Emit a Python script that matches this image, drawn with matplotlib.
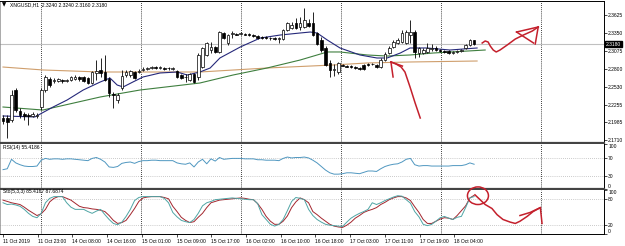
import numpy as np
import matplotlib.pyplot as plt
from matplotlib.patches import Ellipse
import matplotlib.transforms as mtransforms

plt.rcParams['font.family'] = ['Liberation Sans', 'DejaVu Sans']

# XNGUSD H1 candles
opens = [2.2051, 2.2051, 2.2021, 2.2479, 2.2158, 2.2112, 2.2097, 2.2082, 2.2082, 2.2219,
         2.2479, 2.2647, 2.2617, 2.2617, 2.2632, 2.2617, 2.2632, 2.2647, 2.2678, 2.2678,
         2.2662, 2.2586, 2.2739, 2.2785, 2.2754, 2.2647, 2.2418, 2.2326, 2.2510, 2.2708,
         2.2708, 2.2754, 2.2754, 2.2785, 2.2800, 2.2815, 2.2830, 2.2815, 2.2815, 2.2815,
         2.2800, 2.2769, 2.2708, 2.2678, 2.2632, 2.2723, 2.2678, 2.2830, 2.3014, 2.3090,
         2.3136, 2.3060, 2.3350, 2.3197, 2.3335, 2.3335, 2.3335, 2.3335, 2.3335, 2.3319,
         2.3304, 2.3289, 2.3289, 2.3273, 2.3273, 2.3258, 2.3258, 2.3396, 2.3426, 2.3503,
         2.3442, 2.3442, 2.3503, 2.3503, 2.3350, 2.3243, 2.3121, 2.2892, 2.2785, 2.2754,
         2.2861, 2.2846, 2.2846, 2.2830, 2.2815, 2.2861, 2.2876, 2.2876, 2.2861, 2.2830,
         2.2937, 2.3044, 2.3136, 2.3197, 2.3212, 2.3197, 2.3319, 2.3365, 2.3044, 2.3044,
         2.3060, 2.3105, 2.3121, 2.3090, 2.3075, 2.3075, 2.3044, 2.3060, 2.3075, 2.3121,
         2.3167, 2.3240]
highs = [2.2097, 2.2097, 2.2479, 2.2510, 2.2204, 2.2143, 2.2128, 2.2143, 2.2128, 2.2510,
         2.2708, 2.2678, 2.2662, 2.2662, 2.2647, 2.2647, 2.2693, 2.2708, 2.2693, 2.2693,
         2.2678, 2.2769, 2.2937, 2.2968, 2.3014, 2.2678, 2.2448, 2.2433, 2.2785, 2.2785,
         2.2785, 2.2769, 2.2800, 2.2830, 2.2830, 2.2846, 2.2846, 2.2846, 2.2830, 2.2830,
         2.2830, 2.2785, 2.2723, 2.2723, 2.2739, 2.2739, 2.3044, 2.3136, 2.3212, 2.3212,
         2.3151, 2.3380, 2.3365, 2.3335, 2.3380, 2.3350, 2.3365, 2.3350, 2.3350, 2.3335,
         2.3319, 2.3304, 2.3304, 2.3289, 2.3289, 2.3289, 2.3411, 2.3518, 2.3518, 2.3579,
         2.3594, 2.3732, 2.3564, 2.3671, 2.3365, 2.3289, 2.3151, 2.2937, 2.2876, 2.2907,
         2.2876, 2.2861, 2.2861, 2.2846, 2.2830, 2.2876, 2.2892, 2.2892, 2.2876, 2.2968,
         2.3060, 2.3151, 2.3243, 2.3273, 2.3396, 2.3396, 2.3548, 2.3396, 2.3136, 2.3121,
         2.3197, 2.3182, 2.3151, 2.3105, 2.3090, 2.3090, 2.3075, 2.3090, 2.3105, 2.3182,
         2.3258, 2.3240]
lows = [2.1960, 2.1746, 2.1990, 2.2143, 2.2051, 2.2021, 2.1944, 2.2067, 2.2051, 2.2173,
        2.2448, 2.2525, 2.2586, 2.2601, 2.2586, 2.2601, 2.2617, 2.2632, 2.2617, 2.2601,
        2.2571, 2.2571, 2.2632, 2.2678, 2.2617, 2.2372, 2.2204, 2.2280, 2.2479, 2.2678,
        2.2678, 2.2647, 2.2739, 2.2769, 2.2785, 2.2800, 2.2800, 2.2800, 2.2785, 2.2785,
        2.2785, 2.2662, 2.2647, 2.2601, 2.2617, 2.2586, 2.2632, 2.2815, 2.2998, 2.3044,
        2.3044, 2.3044, 2.3258, 2.3167, 2.3273, 2.3319, 2.3319, 2.3319, 2.3304, 2.3289,
        2.3258, 2.3258, 2.3258, 2.3243, 2.3243, 2.3197, 2.3243, 2.3380, 2.3411, 2.3411,
        2.3396, 2.3426, 2.3442, 2.3304, 2.3167, 2.3060, 2.2846, 2.2678, 2.2693, 2.2723,
        2.2846, 2.2830, 2.2815, 2.2800, 2.2785, 2.2785, 2.2846, 2.2861, 2.2815, 2.2815,
        2.2922, 2.3029, 2.3121, 2.3182, 2.3197, 2.3182, 2.3197, 2.2968, 2.2983, 2.3029,
        2.3044, 2.3075, 2.3075, 2.3060, 2.3044, 2.3029, 2.3029, 2.3044, 2.3060, 2.3105,
        2.3151, 2.3160]
closes = [2.2005, 2.1990, 2.2403, 2.2173, 2.2097, 2.2082, 2.2082, 2.2112, 2.2097, 2.2479,
          2.2678, 2.2555, 2.2632, 2.2647, 2.2617, 2.2632, 2.2678, 2.2678, 2.2647, 2.2617,
          2.2586, 2.2754, 2.2769, 2.2739, 2.2632, 2.2433, 2.2403, 2.2403, 2.2693, 2.2754,
          2.2769, 2.2662, 2.2769, 2.2800, 2.2815, 2.2830, 2.2815, 2.2830, 2.2800, 2.2808,
          2.2815, 2.2678, 2.2662, 2.2670, 2.2723, 2.2601, 2.3014, 2.3121, 2.3197, 2.3136,
          2.3060, 2.3365, 2.3273, 2.3319, 2.3350, 2.3327, 2.3350, 2.3327, 2.3319, 2.3304,
          2.3273, 2.3273, 2.3281, 2.3266, 2.3258, 2.3273, 2.3396, 2.3503, 2.3472, 2.3426,
          2.3503, 2.3548, 2.3457, 2.3319, 2.3182, 2.3090, 2.2861, 2.2785, 2.2800, 2.2892,
          2.2853, 2.2838, 2.2830, 2.2815, 2.2800, 2.2800, 2.2861, 2.2869, 2.2830, 2.2937,
          2.3029, 2.3121, 2.3212, 2.3243, 2.3350, 2.3365, 2.3365, 2.3060, 2.3121, 2.3090,
          2.3121, 2.3121, 2.3090, 2.3075, 2.3060, 2.3044, 2.3060, 2.3075, 2.3090, 2.3167,
          2.3243, 2.3180]

# moving averages (read at a few bars, drawn as lines)
ma_fast_idx = [0, 7.5, 11.8, 15.1, 18.9, 22.9, 25.2, 26.9, 28.3, 30.6, 33, 37, 41, 43.4, 46.4, 48.8,
               51.1, 55.9, 60.6, 65.3, 70, 72.4, 74, 76.4, 79.4, 84.1, 88.1, 90.5, 93.6, 95.9,
               99.9, 105.3, 111.7]
ma_fast = [2.2082, 2.2067, 2.2219, 2.2326, 2.2479, 2.2601, 2.2662, 2.2555, 2.2525, 2.2601, 2.2678,
           2.2739, 2.2754, 2.2708, 2.2754, 2.2815, 2.2968, 2.3136, 2.3273, 2.3319, 2.3350, 2.3365,
           2.3350, 2.3243, 2.3121, 2.3014, 2.2968, 2.2968, 2.3044, 2.3121, 2.3121, 2.3090, 2.3121]
ma_mid_idx = [0, 9.4, 22.9, 32.3, 46.4, 54.2, 62.2, 70, 76.4, 79.4, 85.8, 90.5, 95.9, 101.3, 113.6]
ma_mid = [2.2219, 2.2173, 2.2372, 2.2479, 2.2586, 2.2708, 2.2815, 2.2937, 2.3060, 2.3060, 2.3014,
          2.2998, 2.3014, 2.3044, 2.3090]
ma_slow_idx = [0, 9.4, 22.9, 46.4, 62.2, 77.8, 85.8, 95.9, 111.7]
ma_slow = [2.2830, 2.2785, 2.2754, 2.2754, 2.2815, 2.2861, 2.2892, 2.2907, 2.2922]

rsi = [43, 45, 66, 58, 54, 51, 50, 50, 51, 64,
       68, 66, 67, 67, 66, 67, 67, 66, 65, 64,
       63, 68, 70, 66, 60, 49, 48, 50, 57, 59,
       60, 57, 61, 63, 63, 64, 64, 63, 63, 63,
       63, 58, 56, 55, 58, 49, 60, 66, 56, 67,
       62, 70, 66, 67, 68, 68, 68, 67, 67, 67,
       65, 65, 64, 64, 64, 63, 68, 71, 69, 70,
       70, 71, 69, 64, 58, 50, 42, 36, 33, 33,
       34, 36, 36, 35, 34, 37, 40, 40, 39, 45,
       50, 53, 55, 56, 60, 66, 68, 54, 51, 52,
       52, 51, 51, 51, 51, 51, 52, 52, 52, 54,
       58, 55]
sto_main = [71, 67, 68, 66, 63, 56, 47, 40, 37, 47,
            71, 81, 85, 85, 85, 71, 61, 56, 56, 56,
            51, 47, 52, 56, 44, 33, 24, 21, 27, 40,
            56, 76, 83, 85, 85, 85, 85, 85, 81, 71,
            49, 39, 31, 28, 26, 33, 47, 64, 71, 74,
            78, 79, 80, 81, 82, 81, 80, 79, 78, 78,
            69, 44, 33, 22, 18, 22, 33, 53, 74, 83,
            81, 78, 56, 42, 33, 27, 22, 20, 19, 18,
            17, 27, 36, 42, 47, 51, 56, 71, 67, 71,
            76, 80, 84, 87, 86, 78, 70, 51, 39, 22,
            19, 22, 29, 37, 40, 36, 33, 38, 40, 60,
            82, 85]
sto_signal = [77, 74, 71, 69, 67, 61, 54, 48, 42, 46,
              56, 73, 81, 85, 85, 81, 77, 70, 63, 60,
              59, 57, 56, 54, 51, 42, 31, 24, 26, 31,
              44, 58, 74, 82, 84, 85, 85, 85, 83, 80,
              63, 51, 38, 31, 26, 28, 38, 47, 60, 71,
              74, 77, 78, 79, 80, 81, 82, 81, 79, 78,
              69, 56, 40, 29, 22, 22, 29, 41, 60, 73,
              82, 78, 71, 51, 44, 36, 29, 22, 18, 16,
              15, 20, 27, 36, 42, 49, 53, 56, 60, 67,
              72, 78, 82, 85, 85, 82, 76, 62, 49, 33,
              24, 24, 29, 34, 37, 36, 33, 42, 53, 64,
              82, 88]

time_labels = ['11 Oct 2019', '11 Oct 23:00', '14 Oct 08:00', '14 Oct 16:00', '15 Oct 01:00',
               '15 Oct 09:00', '15 Oct 17:00', '16 Oct 02:00', '16 Oct 10:00', '16 Oct 18:00',
               '17 Oct 03:00', '17 Oct 11:00', '17 Oct 19:00', '18 Oct 04:00']
price_ticks = [2.3625, 2.3350, 2.3075, 2.2800, 2.2530, 2.2255, 2.1985, 2.1710]
last_price = 2.3180

# hand drawn red marks
arrow_up_x = [98.3, 97.1, 95.9, 94.7, 93.8, 92.6, 91.4]
arrow_up_y = [2.2051, 2.2280, 2.2525, 2.2754, 2.2830, 2.2876, 2.2907]
wave_x = [112.9, 113.6, 114.3, 114.8, 115.5, 116.2, 117.1, 118.8, 120.7, 122.6, 124.7, 126.1]
wave_y = [2.3197, 2.3228, 2.3212, 2.3151, 2.3090, 2.3060, 2.3090, 2.3167, 2.3258, 2.3319, 2.3380, 2.3442]
sto_wave_x = [111.2, 112.4, 113.6, 115.2, 116.4, 117.8, 119.5, 120.7, 121.8, 123.5, 124.9, 126.6]
sto_wave_y = [89, 78, 67, 58, 44, 33, 27, 24, 29, 40, 51, 60]

n = len(closes)
x = np.arange(n)
o = np.array(opens); h = np.array(highs); l = np.array(lows); c = np.array(closes)
up = c >= o

fig = plt.figure(figsize=(6.25, 2.46), dpi=100)
W = 604 / 625
ax1 = fig.add_axes([0, 1 - 143 / 246, W, 142 / 246])
ax2 = fig.add_axes([0, 1 - 189 / 246, W, 45 / 246])
ax3 = fig.add_axes([0, 1 - 234 / 246, W, 44 / 246])

xlim = (-0.71, 141.6)
grid_pos = [8.96 + k * 23.57 for k in range(6)]
fs = 3.6
red = '#c4202c'

for ax in (ax1, ax2, ax3):
    ax.set_xlim(*xlim)
    ax.yaxis.tick_right()
    ax.tick_params(axis='y', length=2, width=0.5, pad=1, labelsize=fs, colors='black')
    ax.tick_params(axis='x', bottom=False, labelbottom=False)
    for g in grid_pos:
        ax.axvline(g, color='black', lw=0.6, ls=(0, (1, 1.5)), zorder=1)
    ax.spines['left'].set_linewidth(0.5)
    ax.spines['left'].set_color('#888888')
    ax.spines['right'].set_linewidth(0.7)
    ax.spines['top'].set_linewidth(0.7)
    ax.spines['bottom'].set_linewidth(1.6)
    ax.spines['bottom'].set_color('#444444')

# price panel
ax1.set_ylim(2.1669, 2.3839)
ax1.axhline(last_price, color='#c0c0c0', lw=0.8, zorder=1)
ax1.vlines(x, l, h, color='black', lw=0.6, zorder=3)
bb = np.minimum(o, c)
bh = np.maximum(np.abs(c - o), 0.0004)
ax1.bar(x[up], bh[up], bottom=bb[up], width=0.62, color='white', edgecolor='black', lw=0.5, zorder=4)
ax1.bar(x[~up], bh[~up], bottom=bb[~up], width=0.62, color='black', edgecolor='black', lw=0.5, zorder=4)
ax1.plot(ma_slow_idx, ma_slow, color='#cf9e6c', lw=0.8, zorder=2)
ax1.plot(ma_mid_idx, ma_mid, color='#3f7f3f', lw=0.8, zorder=2)
ax1.plot(ma_fast_idx, ma_fast, color='#25287a', lw=0.8, zorder=2)
ax1.set_yticks(price_ticks)
ax1.set_yticklabels(['%.4f' % p for p in price_ticks])
trans = mtransforms.blended_transform_factory(ax1.transAxes, ax1.transData)
ax1.text(1.003, last_price, '%.4f' % last_price, transform=trans, fontsize=fs, color='white',
         va='center', ha='left', bbox=dict(boxstyle='square,pad=0.15', fc='black', ec='black'))
ax1.text(0.004, 0.972, '\u25bc', transform=ax1.transAxes, fontsize=4, va='center', ha='left',
         family='DejaVu Sans')
ax1.text(0.017, 0.972, 'XNGUSD,H1  2.3240 2.3240 2.3160 2.3180', transform=ax1.transAxes,
         fontsize=fs, va='center', ha='left')

ax1.plot(arrow_up_x, arrow_up_y, color=red, lw=1.1, zorder=6)
ax1.plot([91.4, 91.9], [2.2907, 2.2678], color=red, lw=1.1, zorder=6)
ax1.plot([91.4, 94.1], [2.2907, 2.2845], color=red, lw=1.1, zorder=6)
ax1.plot(wave_x, wave_y, color=red, lw=1.1, zorder=6)
ax1.plot([126.1, 125.4], [2.3442, 2.3182], color=red, lw=1.1, zorder=6)
ax1.plot([126.1, 121.0], [2.3442, 2.3365], color=red, lw=1.1, zorder=6)
ax1.plot([121.0, 125.0], [2.3365, 2.3197], color=red, lw=1.1, zorder=6)

# RSI panel
ax2.set_ylim(0, 100)
ax2.spines['top'].set_visible(False)
for lv in (70, 30):
    ax2.axhline(lv, color='#9a9a9a', lw=0.5, ls=(0, (1, 2)), zorder=1)
ax2.plot(x, rsi, color='#4f97c0', lw=0.7, zorder=3)
ax2.set_yticks([100, 70, 30, 0])
ax2.set_yticklabels(['100', '70', '30', '0'])
lab = ax2.get_yticklabels()
lab[0].set_va('top'); lab[3].set_va('bottom')
ax2.text(0.005, 0.93, 'RSI(14) 55.4186', transform=ax2.transAxes, fontsize=fs, va='center')

# Stochastic panel
ax3.set_ylim(0, 100)
ax3.spines['top'].set_visible(False)
ax3.spines['bottom'].set_linewidth(0.7)
ax3.spines['bottom'].set_color('black')
for lv in (80, 20):
    ax3.axhline(lv, color='#9a9a9a', lw=0.5, ls=(0, (1, 2)), zorder=1)
ax3.plot(x, sto_signal, color='#a3262e', lw=0.7, zorder=3)
ax3.plot(x, sto_main, color='#4fa5a5', lw=0.7, zorder=3)
ax3.set_yticks([100, 80, 20, 0])
ax3.set_yticklabels(['100', '80', '20', '0'])
lab = ax3.get_yticklabels()
lab[0].set_va('top'); lab[3].set_va('bottom')
ax3.text(0.005, 0.955, 'Sto(5,3,3) 85.4167 87.6874', transform=ax3.transAxes, fontsize=fs, va='center')
tick_pos = [k * 8.18 for k in range(len(time_labels))]
ax3.set_xticks(tick_pos)
ax3.set_xticklabels(time_labels)
ax3.tick_params(axis='x', bottom=True, labelbottom=True, length=2, width=0.5, pad=1.5, labelsize=fs)
for t in ax3.get_xticklabels():
    t.set_ha('left')

ax3.add_patch(Ellipse((111.9, 87), 4.95, 40, fill=False, ec=red, lw=1.1, zorder=6, clip_on=False))
ax3.plot(sto_wave_x, sto_wave_y, color=red, lw=1.1, zorder=6, clip_on=False)
ax3.plot([121.8, 124.2, 126.6, 127.0], [42, 49, 60, 24], color=red, lw=1.1, zorder=6)

fig.savefig('out.png', dpi=100)
